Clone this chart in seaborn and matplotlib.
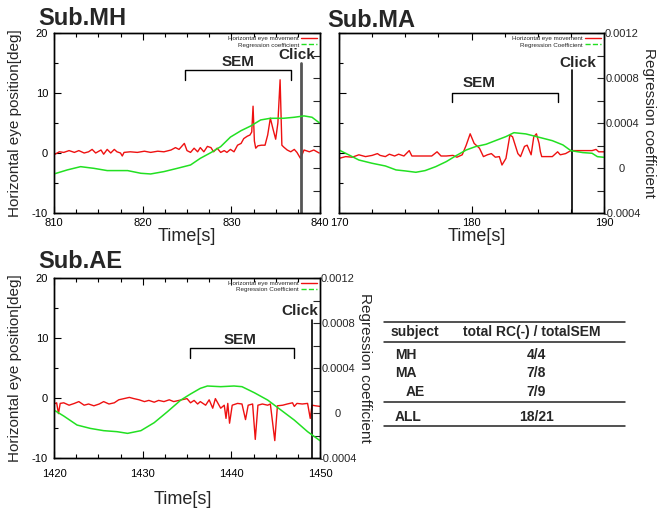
import matplotlib
matplotlib.use("Agg")
import matplotlib.pyplot as plt
import matplotlib.transforms as mtransforms
from matplotlib.lines import Line2D
from matplotlib.ticker import MultipleLocator, FuncFormatter
import pandas as pd
import seaborn as sns

# ---------------- data ----------------
# Subject MH
mh_eye_t = [810.0, 810.6, 811.1, 811.7, 812.3, 812.8, 813.4, 813.9, 814.3, 814.7,
            815.3, 815.6, 816.0, 816.4, 816.8, 817.1, 817.5, 817.7, 817.9, 818.6,
            819.4, 820.2, 820.9, 821.7, 822.4, 823.2, 823.7, 824.1, 824.7, 825.0,
            825.4, 825.8, 826.2, 826.5, 826.9, 827.3, 827.7, 828.0, 828.4, 828.8,
            829.2, 829.5, 829.9, 830.3, 830.7, 831.1, 831.4, 831.8, 832.1, 832.3,
            832.45, 832.6, 832.75, 833.0, 833.4, 833.8, 834.1, 834.4, 834.7, 835.0,
            835.25, 835.5, 835.7, 835.9, 836.3, 836.7, 837.1, 837.4, 837.8, 838.2,
            838.8, 839.3, 839.9]
mh_eye_v = [-0.3, 0.2, 0.1, 0.4, 0.1, 0.4, 0.0, 0.2, 0.6, 0.0,
            0.5, -0.2, 0.6, 0.0, 0.6, 0.2, 0.0, -0.5, 0.1, 0.2,
            0.1, 0.3, 0.1, 0.3, 0.2, 0.5, 0.9, 0.6, 1.6, 0.4,
            0.1, 0.8, 0.2, 0.9, 0.2, 1.1, 0.9, 0.2, 0.8, 0.1,
            0.4, 0.1, 0.6, 0.2, 1.3, 1.6, 2.4, 2.8, 3.0, 3.5,
            7.8, 2.0, 0.8, 1.2, 1.3, 1.3, 3.0, 5.8, 4.0, 2.3,
            5.0, 12.2, 1.3, 1.0, 0.5, 0.2, 0.6, 0.1, -0.9, 0.5,
            0.2, 0.5, 0.0]
mh_rc_t = [810.0, 811.5, 813.0, 814.5, 816.0, 818.3, 819.8, 820.9, 822.4, 823.9,
           825.4, 826.5, 827.7, 828.8, 829.9, 831.1, 832.2, 833.3, 834.4, 835.9,
           837.1, 838.2, 839.1, 839.9]
mh_rc_v = [-0.000053, -0.000017, 0.000012, -0.000003, -0.000023, -0.000023,
           -0.000047, -0.000053, -0.000032, -0.000003, 0.000027, 0.000086,
           0.000137, 0.000190, 0.000275, 0.000332, 0.000374, 0.000427,
           0.000442, 0.000442, 0.000451, 0.000463, 0.000451, 0.000403]

# Subject MA
ma_eye_t = [170.0, 170.5, 171.0, 171.5, 172.0, 172.5, 172.9, 173.1, 173.5, 173.8,
            174.2, 174.5, 174.9, 175.3, 175.5, 176.0, 176.5, 177.0, 177.4, 177.7,
            178.1, 178.6, 178.9, 179.3, 179.6, 179.9, 180.2, 180.6, 180.9, 181.2,
            181.5, 181.8, 182.1, 182.3, 182.6, 182.9, 183.1, 183.5, 183.7, 184.0,
            184.2, 184.5, 184.7, 184.9, 185.1, 185.2, 185.3, 186.1, 186.5, 186.7,
            187.1, 187.5, 188.1, 189.1, 189.4, 189.6, 190.0]
ma_eye_v = [-0.9, -0.6, -0.7, -0.3, -0.6, -0.4, -0.1, -0.4, -0.6, -0.2,
            -0.5, -0.2, -0.5, 0.4, -0.5, -0.5, -0.5, -0.5, 0.2, -0.5,
            -0.5, -0.4, -0.7, -0.3, 1.3, 3.2, 1.6, 0.8, -0.6, -0.3,
            -0.1, -0.7, -0.6, -2.0, -0.9, 3.0, 2.7, -0.1, -0.6, 1.1,
            1.3, -0.3, 2.7, 3.2, 1.6, 0.2, -0.6, -0.6, 0.2, -0.3,
            -0.1, 0.4, 0.4, 0.4, 0.6, 0.2, 0.2]
ma_rc_t = [170.0, 170.75, 171.5, 172.5, 173.5, 174.3, 175.0, 175.8, 176.5, 177.3,
           178.1, 178.8, 179.6, 180.3, 181.1, 181.8, 182.6, 183.2, 184.1, 185.1,
           186.1, 186.9, 187.5, 188.4, 189.1, 189.5, 190.0]
ma_rc_v = [0.000160, 0.000116, 0.000071, 0.000042, 0.000018, -0.000017,
           -0.000026, -0.000038, -0.000023, 0.000012, 0.000057, 0.000107,
           0.000160, 0.000190, 0.000211, 0.000243, 0.000279, 0.000314,
           0.000303, 0.000273, 0.000243, 0.000205, 0.000154, 0.000137,
           0.000131, 0.000101, 0.000095]

# Subject AE
ae_eye_t = [1420.0, 1420.3, 1420.5, 1420.7, 1421.1, 1421.7, 1422.3, 1422.8, 1423.4, 1423.9,
            1424.5, 1425.1, 1425.6, 1426.2, 1426.8, 1427.3, 1427.9, 1428.5, 1429.0, 1429.6,
            1430.2, 1430.7, 1431.3, 1431.8, 1432.4, 1433.0, 1433.5, 1434.1, 1434.7, 1435.0,
            1435.4, 1435.8, 1436.2, 1436.5, 1437.1, 1437.5, 1437.9, 1438.2, 1438.5, 1438.8,
            1439.2, 1439.4, 1439.6, 1439.8, 1440.1, 1440.7, 1441.2, 1441.6, 1441.9, 1442.4,
            1442.7, 1443.0, 1443.5, 1444.1, 1444.4, 1444.9, 1445.2, 1445.8, 1446.3, 1446.9,
            1447.1, 1447.4, 1448.0, 1448.6, 1448.9, 1449.1, 1449.5, 1450.0]
ae_eye_v = [-1.0, -0.8, -2.6, -0.9, -0.8, -1.2, -0.9, -0.6, -1.2, -1.0,
            -1.3, -1.0, -0.6, -1.0, -0.8, -0.3, -0.1, 0.1, -0.1, -0.3,
            -0.6, -0.4, -0.7, -0.4, -0.6, -0.3, -0.6, -0.4, -0.2, -0.1,
            -0.8, -0.4, -1.0, -0.6, -1.2, -0.3, -1.7, -0.1, -0.9, -1.7,
            -1.2, -3.4, -0.9, -4.2, -1.2, -0.9, -1.0, -3.6, -1.2, -1.0,
            -6.9, -1.2, -1.0, -1.2, -1.0, -7.1, -1.3, -1.2, -1.0, -0.8,
            -1.4, -0.9, -1.0, -0.9, -3.4, -1.2, -1.3, -1.4]
ae_rc_t = [1420.0, 1421.1, 1422.6, 1424.1, 1425.6, 1427.1, 1428.3, 1429.8, 1431.3, 1432.8,
           1434.3, 1435.4, 1436.5, 1437.3, 1438.8, 1440.3, 1441.2, 1442.6, 1444.1, 1445.6,
           1447.1, 1448.6, 1450.0]
ae_rc_v = [0.000026, -0.000027, -0.000107, -0.000137, -0.000157, -0.000166,
           -0.000181, -0.000157, -0.000086, 0.000012, 0.000115, 0.000169,
           0.000219, 0.000240, 0.000234, 0.000240, 0.000234, 0.000180,
           0.000115, 0.000026, -0.000063, -0.000166, -0.000246]

# SEM intervals and click times
mh_sem = (824.8, 836.7)
ma_sem = (178.5, 186.5)
ae_sem = (1435.3, 1447.1)
mh_click, ma_click, ae_click = 837.9, 187.55, 1449.1

# summary table
table_subjects = ["MH", "MA", "AE", "ALL"]
rc_negative = [4, 7, 7, 18]
sem_total = [4, 8, 9, 21]

# ---------------- style ----------------
sns.set_theme(style="ticks")
plt.rcParams["font.family"] = ["Liberation Sans", "DejaVu Sans"]
plt.rcParams["axes.unicode_minus"] = False

RED = "#ee1111"
GREEN = "#22e022"
W, H = 657, 514

fig = plt.figure(figsize=(W / 100, H / 100), dpi=100)
fig.patch.set_facecolor("white")


def px_axes(x0, y0, x1, y1):
    return fig.add_axes([x0 / W, 1 - y1 / H, (x1 - x0) / W, (y1 - y0) / H])


def rc_fmt(v, _):
    return "0" if abs(v) < 1e-12 else f"{v:.4f}"


def panel(ax, eye_t, eye_v, rc_t, rc_v, xlim, sem, click, rc_name,
          sem_y, sem_txt, click_top, click_txt, click_color, click_lw,
          left_labels, right_labels, xpad, xlabel_y, xlabel_x=0.5):
    eye = pd.DataFrame({"t": eye_t, "v": eye_v})
    rc = pd.DataFrame({"t": rc_t, "v": rc_v})
    sns.lineplot(data=eye, x="t", y="v", ax=ax, color=RED, lw=1.0,
                 estimator=None, sort=False, legend=False)
    ax2 = ax.twinx()
    sns.lineplot(data=rc, x="t", y="v", ax=ax2, color=GREEN, lw=1.1,
                 estimator=None, sort=False, legend=False)

    ax.set_xlim(*xlim)
    ax.set_ylim(-10, 20)
    ax2.set_ylim(-0.0004, 0.0012)
    ax.set_facecolor("white")

    ax.xaxis.set_major_locator(MultipleLocator(10))
    ax.xaxis.set_minor_locator(MultipleLocator(2.5))
    ax.yaxis.set_major_locator(MultipleLocator(10))
    ax.yaxis.set_minor_locator(MultipleLocator(5))
    ax2.yaxis.set_major_locator(MultipleLocator(0.0004))
    ax2.yaxis.set_minor_locator(MultipleLocator(0.0002))
    ax2.yaxis.set_major_formatter(FuncFormatter(rc_fmt))

    ax.tick_params(axis="both", which="both", direction="in", colors="black",
                   labelsize=8, top=True, width=0.8)
    ax.tick_params(axis="both", which="major", length=5)
    ax.tick_params(axis="both", which="minor", length=3)
    ax.tick_params(axis="x", pad=xpad)
    ax.tick_params(axis="y", pad=4.3, labelleft=left_labels)
    ax2.tick_params(axis="y", which="both", direction="in", width=0.8,
                    labelsize=8, labelright=right_labels, pad=13)
    ax2.tick_params(axis="y", which="major", length=5)
    ax2.tick_params(axis="y", which="minor", length=5)
    for lbl in ax2.get_yticklabels():
        lbl.set_ha("center")

    for a in (ax, ax2):
        for s in a.spines.values():
            s.set_color("black")
            s.set_linewidth(1.0)

    ax.set_xlabel("Time[s]", fontsize=13)
    ax.xaxis.set_label_coords(xlabel_x, xlabel_y)
    ax.xaxis.label.set_va("center")
    if left_labels:
        ax.set_ylabel("Horizontal eye position[deg]", fontsize=11)
        ax.yaxis.set_label_coords(-0.147, 0.5)
        ax.yaxis.label.set_va("center")
    else:
        ax.set_ylabel("")
    if right_labels:
        ax2.set_ylabel("Regression coefficient", fontsize=11, rotation=270)
        ax2.yaxis.set_label_coords(1.168, 0.5)
        ax2.yaxis.label.set_va("center")
        ax2.yaxis.label.set_ha("center")
    else:
        ax2.set_ylabel("")

    # SEM bracket
    trans = mtransforms.blended_transform_factory(ax.transData, ax.transAxes)
    y_top, y_bot = sem_y
    ax.plot([sem[0], sem[0], sem[1], sem[1]], [y_bot, y_top, y_top, y_bot],
            transform=trans, color="black", lw=1.0, clip_on=False)
    ax.text(sem_txt[0], sem_txt[1], "SEM", transform=trans, ha="center",
            va="center", fontsize=11, fontweight="bold")

    # click marker
    ax.axvline(click, ymin=0, ymax=click_top, color=click_color, lw=click_lw)
    ax.text(click_txt[0], click_txt[1], "Click", transform=trans, ha="center",
            va="center", fontsize=11, fontweight="bold")

    handles = [Line2D([], [], color=RED, lw=1.0),
               Line2D([], [], color=GREEN, lw=1.0, ls="--")]
    ax2.legend(handles, ["Horizontal eye movement", rc_name],
               loc="upper right", bbox_to_anchor=(1.0, 1.0), frameon=False,
               fontsize=4.5, markerfirst=False, handlelength=2.6,
               handletextpad=0.3, labelspacing=0.15, borderpad=0.25,
               borderaxespad=0.2)
    return ax2


ax_mh = px_axes(54, 33, 320, 213)
panel(ax_mh, mh_eye_t, mh_eye_v, mh_rc_t, mh_rc_v, (810, 840), mh_sem,
      mh_click, "Regression coefficient",
      sem_y=(0.794, 0.739), sem_txt=(830.75, 0.839),
      click_top=0.833, click_txt=(837.4, 0.878),
      click_color="#555555", click_lw=2.0,
      left_labels=True, right_labels=False, xpad=3.6, xlabel_y=-0.133)

ax_ma = px_axes(339, 33, 604, 213)
panel(ax_ma, ma_eye_t, ma_eye_v, ma_rc_t, ma_rc_v, (170, 190), ma_sem,
      ma_click, "Regression Coefficient",
      sem_y=(0.667, 0.617), sem_txt=(180.6, 0.722),
      click_top=0.794, click_txt=(188.05, 0.836),
      click_color="black", click_lw=1.2,
      left_labels=False, right_labels=True, xpad=3.6, xlabel_y=-0.133,
      xlabel_x=0.52)

ax_ae = px_axes(54, 278, 320, 458)
panel(ax_ae, ae_eye_t, ae_eye_v, ae_rc_t, ae_rc_v, (1420, 1450), ae_sem,
      ae_click, "Regression Coefficient",
      sem_y=(0.611, 0.556), sem_txt=(1441.0, 0.656),
      click_top=0.767, click_txt=(1447.7, 0.819),
      click_color="black", click_lw=1.2,
      left_labels=True, right_labels=True, xpad=8, xlabel_y=-0.233,
      xlabel_x=0.483)

# panel titles
for txt, x, y in [("Sub.MH", 38, 25), ("Sub.MA", 327, 27), ("Sub.AE", 38, 268)]:
    fig.text(x / W, 1 - y / H, txt, fontsize=17, fontweight="bold",
             ha="left", va="baseline")

# summary table
tab = px_axes(370, 310, 657, 440)
tab.set_xlim(370, 657)
tab.set_ylim(440, 310)
tab.axis("off")
rule_kw = dict(color="#222222", lw=1.1)
for y in (322, 342, 402, 426):
    tab.plot([384, 625], [y, y], **rule_kw)
tab.text(415, 332, "subject", ha="center", va="center", fontsize=10,
         fontweight="bold")
tab.text(532, 332, "total RC(-) / totalSEM", ha="center", va="center",
         fontsize=10, fontweight="bold")
row_y = [355, 373, 392, 417]
row_x = [406, 406, 415, 408]
for name, neg, tot, y, x in zip(table_subjects, rc_negative, sem_total, row_y, row_x):
    tab.text(x, y, name, ha="center", va="center", fontsize=10, fontweight="bold")
    tab.text(536, y, f"{neg}/{tot}", ha="center", va="center", fontsize=10,
             fontweight="bold")

fig.savefig("out.png", dpi=100, facecolor="white")
